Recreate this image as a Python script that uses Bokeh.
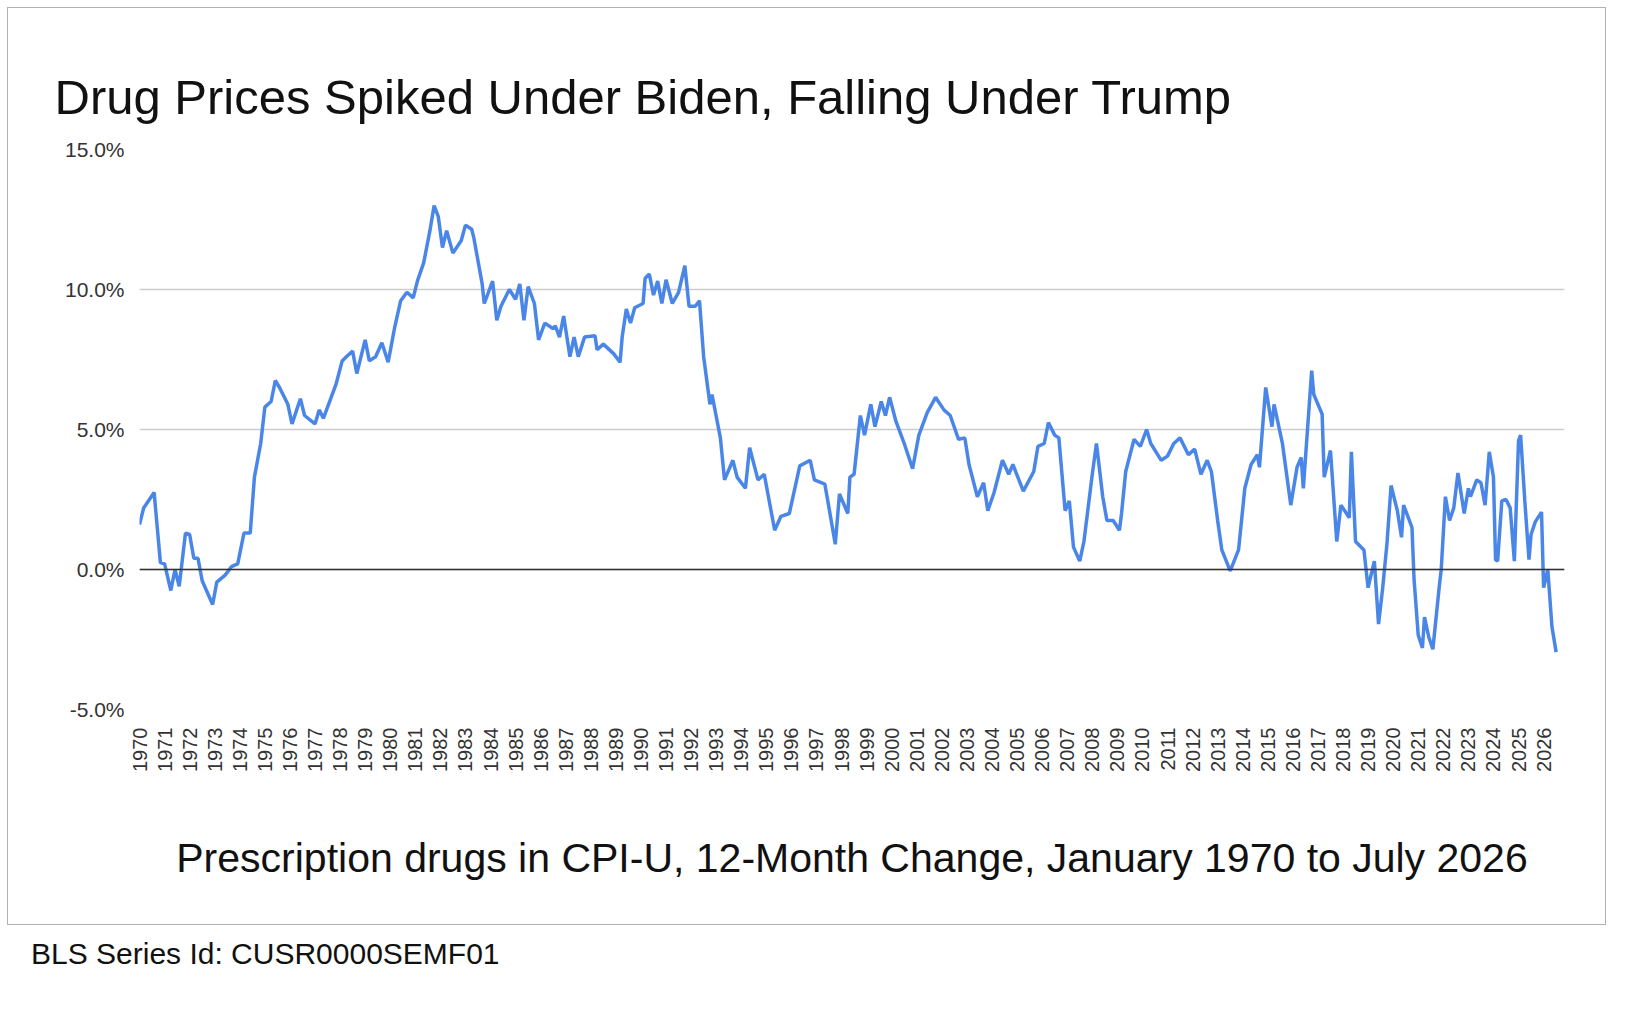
import math
from bokeh.plotting import figure
from bokeh.models import (FixedTicker, PrintfTickFormatter, Title, Span, Div, Range1d,
                          ColumnDataSource)
from bokeh.layouts import column
from bokeh.embed import file_html
from bokeh.resources import INLINE

# month offset since January 1970 and 12-month change (%)
months = [0, 2, 7, 10, 12, 15, 17, 19, 22, 24, 26, 28, 30, 35, 37, 41, 44, 47, 50, 53,
          55, 58, 60, 63, 65, 67, 71, 73, 77, 79, 84, 86, 88, 90, 94, 97, 99, 102, 104, 108,
          110, 113, 116, 119, 122, 125, 128, 131, 133, 136, 139, 141, 143, 145, 147, 150, 154, 156, 159, 160,
          164, 165, 169, 171, 173, 177, 180, 182, 184, 186, 189, 191, 194, 198, 199, 201, 203, 206, 208, 210,
          213, 218, 219, 222, 227, 230, 231, 233, 235, 237, 241, 242, 244, 246, 248, 250, 252, 255, 258, 261,
          263, 266, 268, 270, 273, 274, 278, 280, 284, 286, 290, 292, 296, 299, 304, 307, 311, 316, 321, 323,
          328, 330, 333, 335, 339, 340, 342, 345, 347, 350, 352, 355, 357, 359, 362, 366, 370, 373, 377, 381,
          385, 388, 392, 395, 397, 401, 404, 406, 409, 413, 416, 418, 423, 428, 430, 433, 435, 438, 440, 443,
          445, 447, 450, 452, 456, 458, 461, 463, 466, 469, 470, 472, 476, 479, 482, 484, 489, 492, 495, 498,
          502, 505, 508, 511, 513, 516, 518, 522, 526, 529, 532, 535, 536, 539, 542, 543, 547, 551, 554, 556,
          557, 561, 562, 566, 567, 570, 573, 575, 579, 580, 582, 586, 588, 591, 593, 595, 597, 599, 602, 604,
          605, 609, 610, 612, 614, 615, 617, 619, 622, 623, 625, 627, 629, 631, 634, 636, 637, 640, 642, 644,
          646, 648, 649, 650, 652, 654, 656, 658, 660, 661, 663, 665, 666, 668, 671, 672, 674, 676, 678]
change = [1.6, 2.2, 2.75, 0.25, 0.2, -0.75, 0.0, -0.6, 1.3, 1.25, 0.4, 0.4, -0.4, -1.25, -0.45, -0.2, 0.1, 0.2, 1.3, 1.3,
          3.3, 4.5, 5.8, 6.0, 6.75, 6.5, 5.9, 5.2, 6.1, 5.5, 5.2, 5.7, 5.4, 5.8, 6.6, 7.45, 7.6, 7.8, 7.0, 8.2,
          7.45, 7.6, 8.1, 7.4, 8.6, 9.6, 9.9, 9.7, 10.3, 10.95, 12.1, 13.0, 12.6, 11.5, 12.1, 11.3, 11.75, 12.3, 12.15, 11.85,
          10.2, 9.5, 10.3, 8.9, 9.4, 10.0, 9.65, 10.2, 8.9, 10.1, 9.5, 8.2, 8.8, 8.6, 8.7, 8.3, 9.05, 7.6, 8.3, 7.6,
          8.3, 8.35, 7.85, 8.05, 7.7, 7.4, 8.3, 9.3, 8.8, 9.35, 9.5, 10.4, 10.55, 9.8, 10.3, 9.5, 10.35, 9.5, 9.9, 10.85,
          9.4, 9.4, 9.6, 7.6, 5.9, 6.25, 4.7, 3.2, 3.9, 3.3, 2.9, 4.35, 3.2, 3.4, 1.4, 1.9, 2.0, 3.7, 3.9, 3.2,
          3.05, 2.2, 0.9, 2.7, 2.0, 3.3, 3.4, 5.5, 4.8, 5.9, 5.1, 6.0, 5.5, 6.15, 5.3, 4.5, 3.6, 4.8, 5.6, 6.15,
          5.7, 5.5, 4.65, 4.7, 3.75, 2.6, 3.1, 2.1, 2.75, 3.9, 3.4, 3.75, 2.8, 3.5, 4.4, 4.5, 5.25, 4.8, 4.7, 2.1,
          2.45, 0.8, 0.3, 1.0, 3.4, 4.5, 2.6, 1.75, 1.75, 1.4, 2.0, 3.5, 4.65, 4.4, 5.0, 4.5, 3.9, 4.05, 4.5, 4.7,
          4.1, 4.3, 3.4, 3.9, 3.5, 1.75, 0.7, -0.05, 0.7, 2.9, 3.75, 4.1, 3.65, 6.5, 5.1, 5.9, 4.5, 2.3, 3.65, 4.0,
          2.9, 7.1, 6.25, 5.55, 3.3, 4.25, 1.0, 2.3, 1.85, 4.2, 1.0, 0.7, -0.65, 0.3, -1.95, -0.65, 0.9, 3.0, 2.1, 1.15,
          2.3, 1.5, -0.35, -2.35, -2.8, -1.7, -2.4, -2.85, -0.65, 0.0, 2.6, 1.75, 2.2, 3.45, 2.0, 2.9, 2.6, 3.2, 3.1, 2.3,
          4.2, 3.3, 0.35, 0.3, 2.45, 2.5, 2.2, 0.3, 4.6, 4.8, 2.45, 0.35, 1.25, 1.7, 2.05, -0.65, 0.0, -2.05, -2.95]
years = list(range(1970, 2027))
y_ticks = [-5, 0, 5, 10, 15]

FONT = "Liberation Sans"
src = ColumnDataSource(dict(m=months, v=change))

p = figure(width=1599, height=918, output_backend="svg", toolbar_location=None,
           x_range=Range1d(0, 682), y_range=Range1d(-5, 15),
           min_border_left=131, min_border_right=43, min_border_top=141, min_border_bottom=217)
p.styles = {"border": "1px solid #b0b0b0"}
p.outline_line_color = None
p.background_fill_color = "white"
p.border_fill_color = "white"

p.line("m", "v", source=src, line_color="#4a86e8", line_width=3.5)

p.add_layout(Span(location=0, dimension="width", line_color="#333333", line_width=1.5))

p.yaxis.ticker = FixedTicker(ticks=y_ticks)
p.yaxis.formatter = PrintfTickFormatter(format="%.1f%%")
p.yaxis.axis_line_color = None
p.yaxis.major_tick_line_color = None
p.yaxis.minor_tick_line_color = None
p.yaxis.major_label_text_font = FONT
p.yaxis.major_label_text_font_size = "21px"
p.yaxis.major_label_text_color = "#333333"
p.yaxis.major_label_standoff = 9

p.xaxis.ticker = FixedTicker(ticks=[(y - 1970) * 12 for y in years])
p.xaxis.major_label_overrides = {(y - 1970) * 12: str(y) for y in years}
p.xaxis.major_label_orientation = math.pi / 2
p.xaxis.axis_line_color = None
p.xaxis.major_tick_line_color = None
p.xaxis.minor_tick_line_color = None
p.xaxis.major_label_text_font = FONT
p.xaxis.major_label_text_font_size = "20px"
p.xaxis.major_label_text_color = "#333333"
p.xaxis.major_label_standoff = 12
p.xaxis.axis_label = "Prescription drugs in CPI-U, 12-Month Change, January 1970 to July 2026"
p.xaxis.axis_label_text_font = FONT
p.xaxis.axis_label_text_font_style = "normal"
p.xaxis.axis_label_text_font_size = "41px"
p.xaxis.axis_label_text_color = "#111111"
p.xaxis.axis_label_standoff = 60

p.xgrid.grid_line_color = None
p.ygrid.ticker = FixedTicker(ticks=y_ticks)
p.ygrid.grid_line_color = "#cccccc"
p.ygrid.grid_line_width = 1.5

p.add_layout(Title(text="Drug Prices Spiked Under Biden, Falling Under Trump",
                   text_font=FONT, text_font_size="49px", text_font_style="normal",
                   text_color="#111111", align="left", offset=-85, standoff=52), "above")

note = Div(text="BLS Series Id: CUSR0000SEMF01", margin=(8, 0, 0, 24),
           styles={"font-family": FONT, "font-size": "30px", "color": "#111111"})

layout = column(p, note, margin=(7, 0, 0, 7))
open("out.html", "w").write(file_html(layout, INLINE))
